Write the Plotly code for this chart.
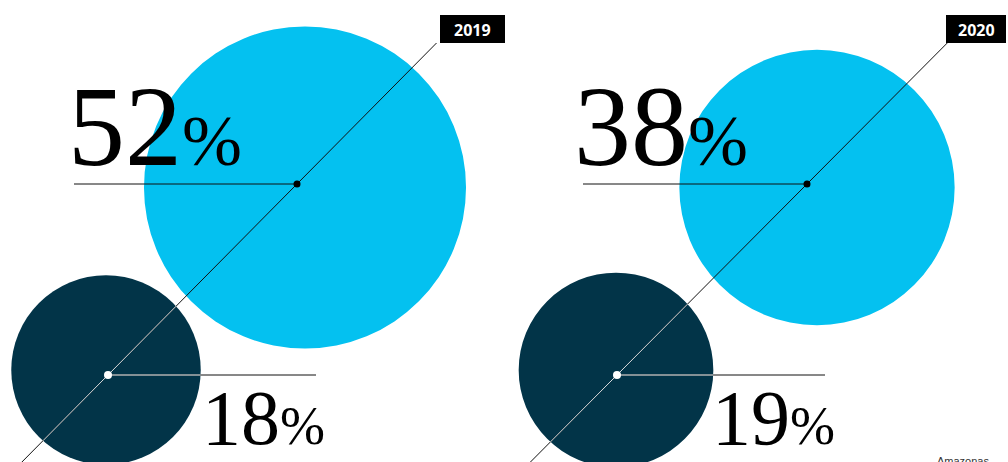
import math
import plotly.graph_objects as go

# ---- data ----
years = ["2019", "2020"]
big_pct = [52, 38]
small_pct = [18, 19]
footer_text = "Amazonas"

# ---- layout constants (pixels) ----
W, H = 1008, 462
K = 22.33  # radius scale: r = K * sqrt(pct)
BLUE = "#04C1F0"
NAVY = "#023448"
SERIF = "Liberation Serif, Times New Roman, serif"

panels = [
    dict(big_c=(305, 187.5), small_c=(106, 370), big_dot=(297, 184), small_dot=(108, 375),
         hline_start=74, lower_end=316, box=(440, 15, 505, 43),
         big_num_x=67, small_num_x=201),
    dict(big_c=(817, 187.5), small_c=(616, 370), big_dot=(807, 184), small_dot=(617, 375),
         hline_start=583, lower_end=825, box=(946, 15, 1006, 43),
         big_num_x=573, small_num_x=711),
]

shapes = []
annotations = []


def circle(cx, cy, r, color, **kw):
    return dict(type="circle", xref="x", yref="y", x0=cx - r, x1=cx + r, y0=cy - r, y1=cy + r,
                fillcolor=color, line=dict(width=0), **kw)


def seg(x0, y0, x1, y1, color, w=1):
    return dict(type="line", xref="x", yref="y", x0=x0, y0=y0, x1=x1, y1=y1,
                line=dict(color=color, width=w))


def num_text(x, baseline, txt, size):
    # yanchor middle: box centre = baseline + descent - (ascent+descent)/2
    return dict(x=x, y=baseline - 0.3375 * size, xref="x", yref="y", text=txt, showarrow=False,
                xanchor="left", yanchor="middle", borderpad=0,
                font=dict(family=SERIF, size=size, color="#000"))


for i, p in enumerate(panels):
    rb = K * math.sqrt(big_pct[i])
    rs = K * math.sqrt(small_pct[i])
    bx, by = p["big_c"]
    sx, sy = p["small_c"]
    shapes.append(circle(bx, by, rb, BLUE))
    shapes.append(circle(sx, sy, rs, NAVY))

    # diagonal line through both dots, from below the chart to the box corner
    (ax, ay), (cx_, cy_) = p["big_dot"], p["small_dot"]
    k = (ax - cx_) / (ay - cy_)
    bx0, by0, bx1, by1 = p["box"]
    y_end = by1
    x_end = ax + (y_end - ay) * k
    y_start = H + 10
    x_start = ax + (y_start - ay) * k
    shapes.append(seg(x_start, y_start, x_end, y_end, "#111"))
    # light overlay where the diagonal crosses the navy circle
    dx, dy = x_end - x_start, y_end - y_start
    fx, fy = x_start - sx, y_start - sy
    a = dx * dx + dy * dy
    b = 2 * (fx * dx + fy * dy)
    c = fx * fx + fy * fy - rs * rs
    disc = b * b - 4 * a * c
    if disc > 0:
        t1 = max(0, (-b - math.sqrt(disc)) / (2 * a))
        t2 = min(1, (-b + math.sqrt(disc)) / (2 * a))
        shapes.append(seg(x_start + t1 * dx, y_start + t1 * dy,
                          x_start + t2 * dx, y_start + t2 * dy, "#d9dfe2"))

    # horizontal lines
    shapes.append(seg(p["hline_start"], ay, ax, ay, "#111"))
    shapes.append(seg(cx_, cy_, p["lower_end"], cy_, "#111"))
    x_circle_edge = sx + math.sqrt(max(rs * rs - (cy_ - sy) ** 2, 0))
    shapes.append(seg(cx_, cy_, x_circle_edge, cy_, "#ffffff"))

    # dots
    shapes.append(circle(ax, ay, 3.5, "#000"))
    shapes.append(circle(cx_, cy_, 4, "#ffffff"))

    # year box
    shapes.append(dict(type="rect", xref="x", yref="y", x0=bx0, y0=by0, x1=bx1, y1=by1,
                       fillcolor="#000", line=dict(width=0)))
    annotations.append(dict(x=(bx0 + bx1) / 2, y=(by0 + by1) / 2 + 1, xref="x", yref="y",
                            text="<b>%s</b>" % years[i], showarrow=False,
                            xanchor="center", yanchor="middle",
                            font=dict(family="Open Sans, sans-serif", size=16, color="#fff")))

    # percentage labels
    big_size, big_pct_size = 114, 72
    annotations.append(num_text(p["big_num_x"], 165, str(big_pct[i]), big_size))
    annotations.append(num_text(p["big_num_x"] + 114, 165, "%", big_pct_size))
    sm_size, sm_pct_size = 78, 54
    annotations.append(num_text(p["small_num_x"], 444, str(small_pct[i]), sm_size))
    annotations.append(num_text(p["small_num_x"] + 78, 444, "%", sm_pct_size))

annotations.append(dict(x=936, y=454, xref="x", yref="y", text=footer_text, showarrow=False,
                        xanchor="left", yanchor="top", borderpad=0,
                        font=dict(family="Liberation Sans, Arial, sans-serif", size=11, color="#333")))

fig = go.Figure()
fig.add_trace(go.Scatter(x=[], y=[], showlegend=False))
fig.update_layout(
    width=W, height=H, margin=dict(l=0, r=0, t=0, b=0),
    paper_bgcolor="#fff", plot_bgcolor="#fff",
    xaxis=dict(range=[0, W], visible=False, fixedrange=True),
    yaxis=dict(range=[H, 0], visible=False, fixedrange=True),
    shapes=shapes, annotations=annotations, showlegend=False,
)
fig.write_html("out.html", config={"displayModeBar": False},
               post_script="document.body.style.margin='0';document.body.style.overflow='hidden';")
